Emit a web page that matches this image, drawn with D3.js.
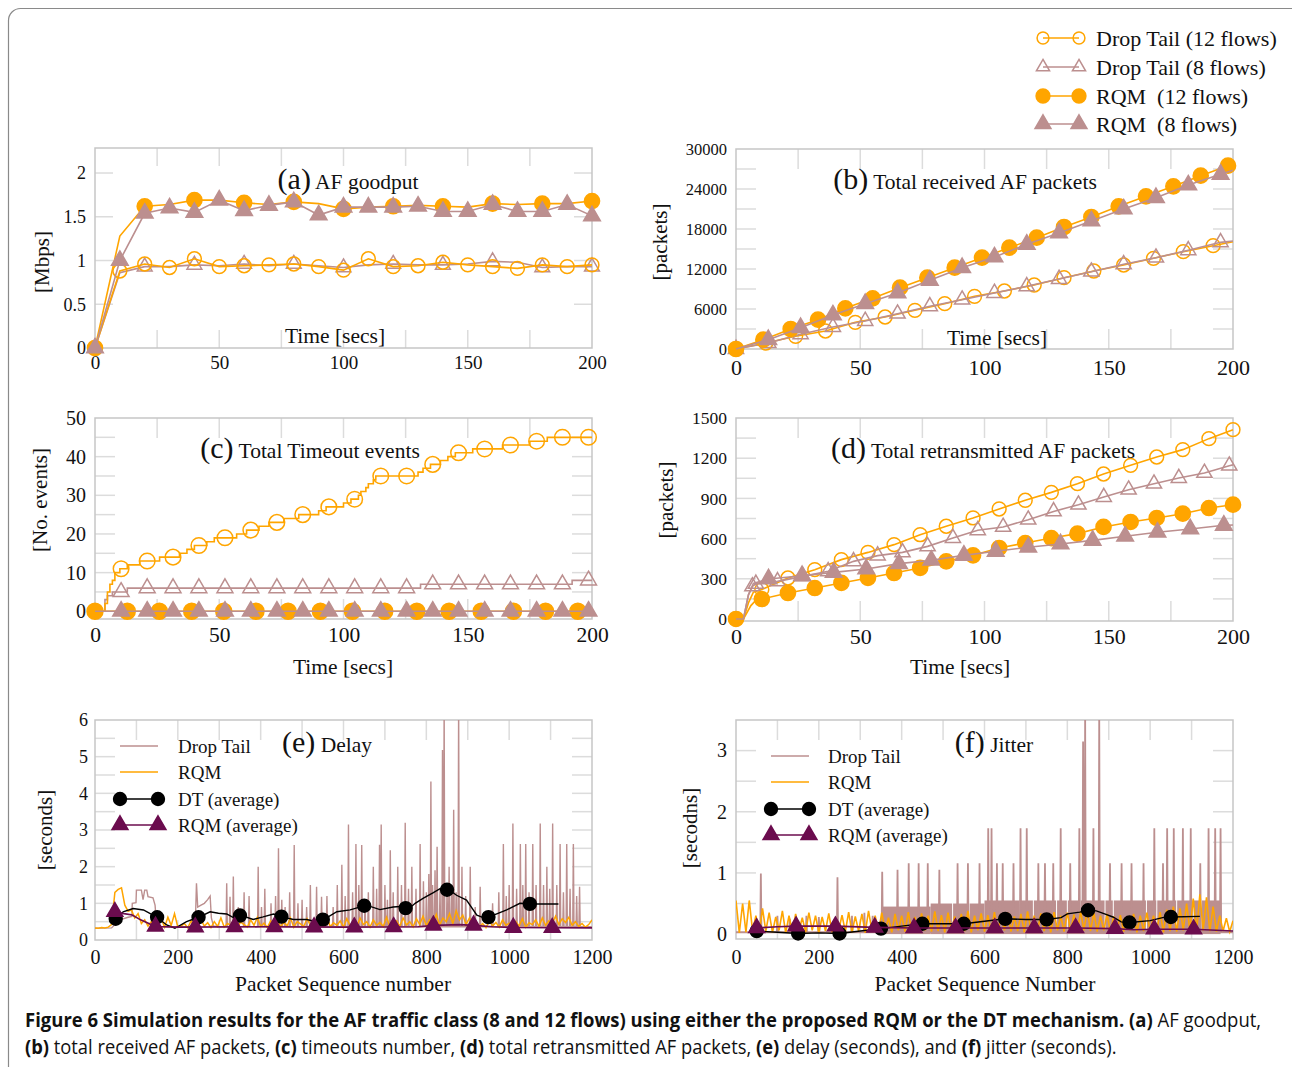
<!DOCTYPE html>
<html>
<head>
<meta charset="utf-8">
<script src="https://cdn.jsdelivr.net/npm/d3@7"></script>
<style>
  body { margin: 0; background: #fff; }
  svg { display: block; }
  text { font-family: "Liberation Serif", "Times New Roman", serif; fill: #111; }
</style>
</head>
<body>
<script>
const W = 1292, H = 1067;
const ORANGE = '#ffa500', ROSY = '#bc8f8f', PURPLE = '#6b0c4e';
const FRAME = '#c6c6c6', TICK = '#dcdcdc';

// ---------- data ----------
// (a) AF goodput [Mbps], one sample every 10 s
const tGood = [0, 10, 20, 30, 40, 50, 60, 70, 80, 90, 100, 110, 120, 130, 140, 150, 160, 170, 180, 190, 200];
const goodDT12 = [0, 0.88, 0.96, 0.92, 1.02, 0.93, 0.94, 0.95, 0.96, 0.93, 0.89, 1.02, 0.93, 0.94, 0.98, 0.95, 0.93, 0.91, 0.95, 0.93, 0.95];
const goodDT8 = [0, 0.86, 0.93, 0.93, 0.95, 0.94, 0.96, 0.94, 0.96, 0.94, 0.92, 0.95, 0.96, 0.95, 0.95, 0.96, 0.99, 0.98, 0.92, 0.93, 0.93];
const goodRQM12 = [0, 1.28, 1.62, 1.64, 1.69, 1.69, 1.66, 1.64, 1.67, 1.65, 1.59, 1.61, 1.62, 1.63, 1.62, 1.61, 1.65, 1.64, 1.65, 1.65, 1.68];
const goodRQM8 = [0, 1.0, 1.54, 1.6, 1.55, 1.69, 1.57, 1.63, 1.67, 1.52, 1.61, 1.61, 1.61, 1.62, 1.56, 1.56, 1.64, 1.56, 1.56, 1.64, 1.51];

// (b) total received AF packets
const recvT12 = [0, 11, 22, 33, 44, 55, 66, 77, 88, 99, 110, 121, 132, 143, 154, 165, 176, 187, 198, 200];
const recvRQM12 = [0, 1400, 3000, 4400, 6100, 7600, 9200, 10700, 12200, 13700, 15200, 16700, 18300, 19800, 21400, 22900, 24400, 26000, 27500, 27800];
const recvT8 = [0, 13, 26, 39, 52, 65, 78, 91, 104, 117, 130, 143, 156, 169, 182, 195, 200];
const recvRQM8 = [0, 1400, 3200, 5100, 6800, 8400, 10300, 12200, 13800, 15700, 17400, 19200, 21000, 22700, 24600, 26200, 26800];
const recvTDT12 = [0, 12, 24, 36, 48, 60, 72, 84, 96, 108, 120, 132, 144, 156, 168, 180, 192, 200];
const recvDT12 = [0, 900, 1900, 2700, 4000, 4800, 5800, 6800, 7900, 8700, 9600, 10700, 11700, 12600, 13600, 14600, 15500, 16100];
const recvDT8 = [0, 900, 2200, 3300, 4200, 5300, 6400, 7400, 8400, 9400, 10500, 11600, 12700, 13700, 14800, 16000, 16200];

// (c) total timeout events: [time, count] where the count steps up
const toDT12 = [[0,0],[3,0],[4,2],[5,5],[6,7],[7,8],[8,10],[10,11],[13,12],[18,13],[26,14],[34,15],[37,16],[40,17],[45,18],[48,19],[57,20],[61,21],[66,22],[70,23],[76,24],[82,25],[90,26],[93,27],[100,28],[103,29],[106,30],[107,31],[109,32],[110,33],[112,34],[113,35],[130,36],[132,37],[135,38],[139,39],[142,40],[145,41],[152,42],[164,43],[175,44],[182,45],[200,45]];
const toDT8 = [[0,0],[3,0],[4,3],[5,4],[7,5],[13,6],[131,7],[192,8],[200,8]];
const toRQM12 = [[0,0],[200,0]];
const toRQM8 = [[0,0],[200,0]];
const marksTimeoutA = [10.5, 21, 31.4, 41.8, 52.3, 62.7, 73.2, 83.6, 94.1, 104.5, 115, 125.4, 135.9, 146.3, 156.8, 167.2, 177.7, 188.1, 198.6];
const marksTimeoutB = [0, 13, 25.9, 38.9, 51.8, 64.8, 77.7, 90.7, 103.6, 116.6, 129.5, 142.5, 155.4, 168.4, 181.3, 194.3];

// (d) total retransmitted AF packets
const retxDT12 = [[0,0],[3,0],[5,120],[7,200],[10.4,220],[20.9,306],[31.7,368],[42.4,443],[53.1,497],[63.6,555],[74.1,629],[84.6,692],[95.4,754],[105.9,821],[116.4,886],[126.9,945],[137.4,1010],[147.9,1082],[158.8,1147],[169.3,1209],[179.8,1264],[190.3,1346],[200,1413]];
const retxRQM12 = [[0,0],[3,0],[6,100],[8,140],[10.4,149],[20.9,194],[31.7,231],[42.4,269],[53.1,306],[63.6,343],[74.1,381],[84.6,430],[95.4,475],[105.9,530],[116.4,567],[126.9,604],[137.4,637],[147.9,687],[158.8,724],[169.3,754],[179.8,786],[190.3,828],[200,853]];
const retxDT8 = [[0,0],[3,0],[5,180],[6.6,243],[8,262],[16.7,281],[26.9,318],[37.1,356],[47.3,430],[57,473],[67,497],[77.1,542],[87.3,604],[97.3,662],[107.5,687],[117.6,741],[127.8,803],[137.8,853],[148,910],[158,965],[168.2,1010],[178.2,1052],[188.5,1090],[198.5,1144],[200,1150]];
const retxRQM8 = [[0,0],[3,0],[5,180],[7,265],[13.1,299],[26.6,323],[39.3,348],[52.4,373],[65.6,413],[78.6,438],[91.7,475],[104.5,505],[117.6,535],[130.6,560],[143.5,587],[156.6,617],[169.6,647],[182.8,672],[196.3,699],[200,702]];

// (e) delay [s] per packet sequence number
const dtDelayHead = [[0,0.32],[40,0.33],[60,0.55],[80,0.62],[89,0.64],[90,1.0],[99,1.02],[100,1.36],[112,1.36],[116,1.1],[120,1.36],[125,1.36],[128,1.18],[140,1.15],[145,0.95],[149,0.4],[160,0.36],[242,0.36],[245,1.55],[248,0.9],[256,0.95],[264,1.0],[272,1.1],[278,1.2],[281,0.6],[286,0.38],[300,0.36]];
const dtDelaySpikes = [[318,1.55],[326,1.18],[334,1.73],[346,0.9],[360,1.3],[372,1.2],[394,2.0],[402,0.9],[410,1.4],[425,1.0],[436,1.2],[443,2.5],[451,1.1],[459,0.9],[470,1.3],[481,2.59],[490,1.0],[500,1.1],[511,0.9],[520,1.5],[535,1.45],[547,1.18],[560,1.2],[575,0.9],[585,1.5],[596,2.05],[604,1.2],[612,3.15],[622,1.3],[630,2.62],[637,1.5],[644,2.59],[652,1.0],[660,1.3],[672,2.0],[680,1.4],[687,2.6],[691,3.15],[700,1.5],[706,1.1],[713,2.45],[720,1.3],[731,2.0],[740,1.5],[749,3.2],[757,1.4],[765,2.0],[775,1.4],[785,2.62],[793,1.6],[800,1.3],[806,1.8],[811,4.32],[815,1.5],[821,1.9],[826,2.54],[833,1.4],[839,5.18],[843,6.5],[850,1.4],[855,2.0],[861,1.5],[866,3.55],[872,1.3],[878,6.5],[886,2.0],[895,1.2],[906,2.0],[918,0.9],[930,1.45],[960,1.0],[975,1.3],[986,2.62],[993,1.2],[1000,1.5],[1009,3.18],[1018,1.4],[1027,2.62],[1033,1.5],[1040,2.62],[1048,1.3],[1057,2.62],[1065,1.5],[1075,3.18],[1083,1.5],[1091,2.0],[1098,1.4],[1105,3.18],[1115,1.5],[1123,2.62],[1131,1.3],[1139,2.62],[1147,1.4],[1155,2.62],[1163,1.2],[1170,1.45]];
const dtDelayBase = 0.36;
// RQM delay, one reading every 8 packets
const rqmDelayStep = 8;
const rqmDelay = [0.33,0.32,0.34,0.33,0.35,0.42, 1.3,1.38,1.42,0.95, 0.78,0.82,0.6,0.72,0.45,0.55,
  0.38,0.5,0.36,0.42,0.58,0.35,0.62,0.4,0.72,0.35,
  0.38,0.45,0.33,0.52,0.4,0.36,0.55,0.38,0.47,0.34,
  0.5,0.37,0.6,0.35,0.45,0.4,0.58,0.36,0.49,0.42,
  0.35,0.55,0.4,0.62,0.37,0.46,0.34,0.52,0.41,0.57,
  0.36,0.48,0.39,0.6,0.35,0.5,0.44,0.37,0.58,0.4,
  0.46,0.34,0.55,0.38,0.63,0.36,0.47,0.4,0.52,0.35,
  0.58,0.39,0.45,0.36,0.6,0.42,0.5,0.35,0.55,0.4,
  0.48,0.37,0.62,0.36,0.45,0.52,0.38,0.6,0.41,0.5,
  0.36,0.58,0.42,0.65,0.39,0.55,0.45,0.7,0.4,0.6,
  0.5,0.72,0.45,0.8,0.55,0.68,0.42,0.6,0.38,0.5,
  0.36,0.45,0.34,0.52,0.38,0.48,0.35,0.55,0.4,0.46,
  0.36,0.5,0.38,0.58,0.35,0.47,0.42,0.55,0.37,0.6,
  0.4,0.52,0.45,0.65,0.42,0.58,0.48,0.62,0.4,0.5,
  0.37,0.45,0.35,0.42,0.55];
const dtAvgDelay = [[48,0.56],[68,0.77],[92,0.86],[117,0.82],[150,0.62],[173,0.41],[193,0.32],[221,0.5],[250,0.62],[278,0.77],[298,0.73],[318,0.71],[342,0.56],[351,0.68],[382,0.56],[406,0.63],[431,0.71],[452,0.63],[479,0.56],[511,0.56],[535,0.5],[554,0.57],[584,0.77],[616,0.82],[655,0.95],[688,0.83],[720,0.9],[745,0.92],[755,0.82],[773,1.0],[793,1.14],[817,1.29],[833,1.4],[856,1.36],[873,1.22],[897,1.09],[922,0.68],[942,0.59],[958,0.66],[994,0.82],[1026,1.0],[1059,0.98],[1119,0.98]];
const rqmAvgDelay = [[48,0.77],[70,0.72],[90,0.68],[110,0.55],[130,0.45],[146,0.37],[200,0.35],[400,0.36],[600,0.35],[780,0.36],[820,0.4],[880,0.42],[915,0.4],[960,0.36],[1010,0.34],[1200,0.33]];
const marksDtAvg = [50, 150, 250, 350, 450, 550, 650, 750, 850, 950, 1050];
const marksRqmAvg = [48, 146, 242, 337, 433, 529, 626, 721, 817, 914, 1010, 1104];

// (f) jitter [s]
const dtJitterSpikes = [[60,0.99],[100,0.3],[130,0.25],[170,0.3],[200,0.28],[245,0.93],[280,0.3],[310,0.35],[330,0.3],[353,1.02],[390,1.05],[417,1.16],[441,1.16],[463,1.16],[491,1.05],[535,1.16],[560,1.16],[588,1.16],[609,1.73],[617,1.73],[630,1.16],[644,1.16],[670,1.16],[687,1.73],[702,1.73],[730,1.16],[746,1.16],[766,1.16],[784,1.73],[807,1.16],[829,1.73],[838,3.15],[843,3.6],[863,1.73],[877,3.6],[903,1.16],[931,1.16],[955,1.16],[984,1.16],[1010,1.73],[1031,1.16],[1041,1.73],[1057,1.73],[1079,1.73],[1098,1.73],[1121,1.16],[1141,1.73],[1157,1.73],[1170,1.73]];
const dtJitterBase = 0.03;
const dtJitterBlocks = [[352,470,0.45],[470,600,0.5],[600,1170,0.55]];
const dtJitterGaps = [491,523,563,686,718,774,800,831,891,911,991,1016,1064,1104,1124];
const rqmJitterStep = 8;
const rqmJitter = [0.55,0.02,0.5,0.03,0.55,0.05,
  0.3,0.02,0.42,0.05,0.35,0.03,0.28,0.06,0.38,0.02,
  0.3,0.04,0.33,0.05,0.27,0.03,0.35,0.06,0.3,0.02,
  0.28,0.05,0.34,0.03,0.26,0.06,0.31,0.04,0.36,0.03,
  0.29,0.05,0.33,0.02,0.38,0.06,0.3,0.04,0.35,0.05,
  0.27,0.03,0.33,0.06,0.3,0.04,0.36,0.05,0.28,0.03,
  0.34,0.06,0.3,0.04,0.37,0.05,0.31,0.03,0.35,0.06,
  0.29,0.04,0.33,0.05,0.38,0.03,0.3,0.06,0.34,0.04,
  0.31,0.05,0.36,0.03,0.3,0.06,0.35,0.04,0.29,0.05,
  0.33,0.03,0.37,0.06,0.3,0.04,0.34,0.05,0.31,0.03,
  0.36,0.06,0.3,0.04,0.35,0.05,0.32,0.03,0.37,0.06,
  0.4,0.05,0.35,0.04,0.3,0.06,0.33,0.03,0.29,0.05,
  0.31,0.04,0.28,0.06,0.33,0.03,0.3,0.05,0.35,0.04,
  0.3,0.06,0.36,0.03,0.4,0.05,0.45,0.04,0.42,0.06,
  0.5,0.05,0.58,0.04,0.65,0.06,0.6,0.05,0.45,0.04,
  0.3,0.05,0.26,0.04,0.22];
const dtAvgJitter = [[50,0.05],[100,0.03],[150,0.01],[200,0.02],[250,0.01],[300,0.05],[350,0.09],[400,0.13],[450,0.17],[500,0.17],[550,0.17],[600,0.21],[650,0.25],[700,0.24],[750,0.24],[785,0.27],[800,0.33],[830,0.36],[850,0.39],[870,0.38],[890,0.33],[910,0.28],[930,0.2],[950,0.19],[1000,0.22],[1030,0.27],[1050,0.28],[1120,0.29]];
const rqmAvgJitter = [[50,0.1],[100,0.12],[145,0.13],[240,0.13],[335,0.11],[430,0.1],[530,0.1],[625,0.1],[720,0.1],[820,0.1],[915,0.09],[960,0.07],[1010,0.08],[1105,0.08],[1200,0.05]];
const marksRqmAvgJ = [50, 145, 240, 335, 430, 530, 625, 720, 820, 915, 1010, 1105];

const legendMain = ['Drop Tail (12 flows)', 'Drop Tail (8 flows)', 'RQM  (12 flows)', 'RQM  (8 flows)'];
const legendSmall = ['Drop Tail', 'RQM', 'DT (average)', 'RQM (average)'];

// ---------- helpers ----------
const zip = (xs, ys) => xs.map((x, i) => [x, ys[i]]);
const every = (arr, step) => arr.filter((d, i) => i % step === 0);

function valueAt(pts, t, step) {
  const i = d3.bisector(d => d[0]).right(pts, t) - 1;
  if (i < 0) return pts[0][1];
  if (step || i >= pts.length - 1) return pts[i][1];
  const [x0, y0] = pts[i], [x1, y1] = pts[i + 1];
  return y0 + (y1 - y0) * (t - x0) / (x1 - x0);
}

// baseline with narrow spikes on top of it
function spikeLine(head, spikes, base, end, w) {
  const pts = head.slice();
  spikes.forEach(([s, v]) => pts.push([s - w, base], [s, v], [s + w, base]));
  pts.push([end, base]);
  return pts;
}

const svg = d3.select('body').append('svg').attr('width', W).attr('height', H);

svg.append('rect') // page border
  .attr('x', 8.5).attr('y', 8.5).attr('width', 1320).attr('height', 1120)
  .attr('rx', 12).attr('fill', 'none').attr('stroke', '#8a8a8a').attr('stroke-width', 1.2);

let clipCount = 0;
function panel(o) {
  const x = d3.scaleLinear().domain(o.xd).range([o.left, o.right]);
  const y = d3.scaleLinear().domain(o.yd).range([o.bottom, o.top]);
  const g = svg.append('g');
  const tl = o.tickLen || 20;

  const grid = g.append('g').attr('stroke', TICK).attr('stroke-width', 1.5);
  o.yGrid.forEach(v => {
    grid.append('line').attr('x1', o.left).attr('x2', o.left + tl).attr('y1', y(v)).attr('y2', y(v));
    grid.append('line').attr('x1', o.right - tl).attr('x2', o.right).attr('y1', y(v)).attr('y2', y(v));
  });
  o.xGrid.forEach(v => {
    grid.append('line').attr('x1', x(v)).attr('x2', x(v)).attr('y1', o.top).attr('y2', o.top + tl);
    grid.append('line').attr('x1', x(v)).attr('x2', x(v)).attr('y1', o.bottom - tl).attr('y2', o.bottom);
  });

  g.append('rect')
    .attr('x', o.left).attr('y', o.top).attr('width', o.right - o.left).attr('height', o.bottom - o.top)
    .attr('fill', 'none').attr('stroke', FRAME).attr('stroke-width', 1.5);

  const ax = g.append('g').attr('transform', `translate(0,${o.bottom})`)
    .call(d3.axisBottom(x).tickValues(o.xTicks).tickSize(0).tickPadding(o.xPad).tickFormat(d3.format('')));
  const ay = g.append('g').attr('transform', `translate(${o.left},0)`)
    .call(d3.axisLeft(y).tickValues(o.yTicks).tickSize(0).tickPadding(o.yPad).tickFormat(d3.format('')));
  [ax, ay].forEach(a => {
    a.select('.domain').remove();
    a.attr('font-family', null).attr('font-size', null);
  });
  ax.selectAll('text').style('font-size', o.xFont + 'px');
  ay.selectAll('text').style('font-size', o.yFont + 'px');

  const id = 'clip' + clipCount++;
  g.append('clipPath').attr('id', id).append('rect')
    .attr('x', o.left).attr('y', o.top).attr('width', o.right - o.left).attr('height', o.bottom - o.top);
  const plot = g.append('g').attr('clip-path', `url(#${id})`);

  // titles and axis labels
  const t = g.append('text').attr('x', o.title[1]).attr('y', o.title[2]).attr('text-anchor', 'middle');
  t.append('tspan').style('font-size', '30px').text(o.title[0][0]);
  t.append('tspan').style('font-size', '21.5px').text(o.title[0][1]);
  g.append('text').attr('transform', `translate(${o.ylab[1]},${o.ylab[2]}) rotate(-90)`)
    .attr('text-anchor', 'middle').attr('dy', '0.35em').style('font-size', '21px').text(o.ylab[0]);
  g.append('text').attr('x', o.xlab[1]).attr('y', o.xlab[2]).attr('text-anchor', 'middle')
    .attr('dy', '0.35em').style('font-size', '21.5px').text(o.xlab[0]);

  return { x, y, g, plot };
}

function series(p, s) {
  const line = d3.line().x(d => p.x(d[0])).y(d => p.y(d[1]))
    .curve(s.step ? d3.curveStepAfter : d3.curveLinear);
  p.g.append('path').attr('d', line(s.pts))
    .attr('fill', 'none').attr('stroke', s.color).attr('stroke-width', s.lw || 1.6);
  const sym = d3.symbol().type(s.shape).size(s.size);
  p.g.append('g').selectAll('path').data(s.marks).join('path')
    .attr('transform', t => `translate(${p.x(t)},${p.y(valueAt(s.pts, t, s.step))})`)
    .attr('d', sym)
    .attr('fill', s.open ? 'none' : s.color)
    .attr('stroke', s.color).attr('stroke-width', 1.5);
}

const tri = d3.symbolTriangle, circ = d3.symbolCircle;
const ticksTime = [0, 50, 100, 150, 200];
const gridTime = [25, 50, 75, 100, 125, 150, 175];

// ---------- (a) ----------
const pa = panel({
  left: 95, right: 592, top: 148, bottom: 348, xd: [0, 200], yd: [0, 2.286],
  xTicks: ticksTime, yTicks: [0, 0.5, 1, 1.5, 2], xGrid: gridTime, yGrid: [0.5, 1, 1.5, 2],
  xPad: 8, yPad: 9, xFont: 19, yFont: 18, tickLen: 18,
  title: [['(a)', ' AF goodput'], 348, 189], ylab: ['[Mbps]', 42, 262], xlab: ['Time [secs]', 335, 335]
});
series(pa, { pts: zip(tGood, goodDT8), marks: every(tGood, 2), color: ROSY, shape: tri, size: 95, open: true });
series(pa, { pts: zip(tGood, goodDT12), marks: tGood, color: ORANGE, shape: circ, size: 150, open: true });
series(pa, { pts: zip(tGood, goodRQM12), marks: every(tGood, 2), color: ORANGE, shape: circ, size: 180 });
series(pa, { pts: zip(tGood, goodRQM8), marks: tGood, color: ROSY, shape: tri, size: 120 });

// ---------- (b) ----------
const pb = panel({
  left: 736, right: 1233, top: 149, bottom: 349, xd: [0, 200], yd: [0, 30000],
  xTicks: ticksTime, yTicks: [0, 6000, 12000, 18000, 24000, 30000], xGrid: gridTime,
  yGrid: d3.range(3000, 30000, 3000),
  xPad: 10, yPad: 9, xFont: 22, yFont: 16.5,
  title: [['(b)', ' Total received AF packets'], 965, 189], ylab: ['[packets]', 660, 242], xlab: ['Time [secs]', 997, 337]
});
series(pb, { pts: zip(recvTDT12, recvDT12), marks: recvTDT12.slice(0, -1), color: ORANGE, shape: circ, size: 150, open: true });
series(pb, { pts: zip(recvT8, recvDT8), marks: recvT8.slice(0, -1), color: ROSY, shape: tri, size: 100, open: true });
series(pb, { pts: zip(recvT12, recvRQM12), marks: recvT12.slice(0, -1), color: ORANGE, shape: circ, size: 180 });
series(pb, { pts: zip(recvT8, recvRQM8), marks: recvT8.slice(1, -1), color: ROSY, shape: tri, size: 120 });

// ---------- (c) ----------
const pc = panel({
  left: 95, right: 592, top: 418, bottom: 619, xd: [0, 200], yd: [-2, 50],
  xTicks: ticksTime, yTicks: [0, 10, 20, 30, 40, 50], xGrid: gridTime, yGrid: d3.range(0, 50, 5),
  xPad: 7.3, yPad: 9, xFont: 21.5, yFont: 20,
  title: [['(c)', '  Total Timeout events'], 310, 458], ylab: ['[No. events]', 40, 500], xlab: ['Time [secs]', 343, 666]
});
series(pc, { pts: toDT8, step: true, marks: marksTimeoutA, color: ROSY, shape: tri, size: 110, open: true });
series(pc, { pts: toDT12, step: true, marks: marksTimeoutA, color: ORANGE, shape: circ, size: 190, open: true });
series(pc, { pts: toRQM12, step: true, marks: marksTimeoutB, color: ORANGE, shape: circ, size: 200 });
series(pc, { pts: toRQM8, step: true, marks: marksTimeoutA, color: ROSY, shape: tri, size: 120 });

// ---------- (d) ----------
const pd = panel({
  left: 736, right: 1233, top: 418, bottom: 621, xd: [0, 200], yd: [-15, 1500],
  xTicks: ticksTime, yTicks: [0, 300, 600, 900, 1200, 1500], xGrid: gridTime, yGrid: d3.range(150, 1500, 150),
  xPad: 7, yPad: 9, xFont: 22, yFont: 17.5,
  title: [['(d)', ' Total retransmitted AF packets'], 983, 458], ylab: ['[packets]', 666, 500], xlab: ['Time [secs]', 960, 666]
});
series(pd, { pts: retxDT12, marks: [0].concat(retxDT12.slice(4).map(d => d[0])), color: ORANGE, shape: circ, size: 150, open: true });
series(pd, { pts: retxDT8, marks: retxDT8.slice(3, -1).map(d => d[0]), color: ROSY, shape: tri, size: 100, open: true });
series(pd, { pts: retxRQM12, marks: [0].concat(retxRQM12.slice(4).map(d => d[0])), color: ORANGE, shape: circ, size: 180 });
series(pd, { pts: retxRQM8, marks: retxRQM8.slice(4, -1).map(d => d[0]), color: ROSY, shape: tri, size: 120 });

// ---------- (e) ----------
const seqTicks = [0, 200, 400, 600, 800, 1000, 1200];
const seqGrid = d3.range(100, 1200, 100);
const pe = panel({
  left: 95, right: 592, top: 720, bottom: 940, xd: [0, 1200], yd: [0, 6],
  xTicks: seqTicks, yTicks: [0, 1, 2, 3, 4, 5, 6], xGrid: seqGrid, yGrid: d3.range(0.5, 6, 0.5),
  xPad: 9.8, yPad: 7, xFont: 20, yFont: 18,
  title: [['(e)', '  Delay'], 327, 752], ylab: ['[seconds]', 45, 830], xlab: ['Packet Sequence number', 343, 983]
});
const seqLine = p => d3.line().x(d => p.x(d[0])).y(d => p.y(d[1]));
pe.plot.append('path').attr('d', seqLine(pe)(spikeLine(dtDelayHead, dtDelaySpikes, dtDelayBase, 1200, 1.5)))
  .attr('fill', 'none').attr('stroke', ROSY).attr('stroke-width', 1.4);
pe.plot.append('path').attr('d', seqLine(pe)(rqmDelay.map((v, i) => [i * rqmDelayStep, v])))
  .attr('fill', 'none').attr('stroke', ORANGE).attr('stroke-width', 1.5);
series(pe, { pts: dtAvgDelay, marks: marksDtAvg, color: '#000', shape: circ, size: 130, lw: 1.4 });
series(pe, { pts: rqmAvgDelay, marks: marksRqmAvg, color: PURPLE, shape: tri, size: 110, lw: 1.6 });

// ---------- (f) ----------
const pf = panel({
  left: 736, right: 1233, top: 720, bottom: 939, xd: [0, 1200], yd: [-0.08, 3.5],
  xTicks: seqTicks, yTicks: [0, 1, 2, 3], xGrid: seqGrid, yGrid: d3.range(0.5, 3.5, 0.5),
  xPad: 10.8, yPad: 9, xFont: 20, yFont: 20,
  title: [['(f)', ' Jitter'], 994, 752], ylab: ['[secodns]', 690, 828], xlab: ['Packet Sequence Number', 985, 983]
});
pf.plot.append('g').selectAll('rect').data(dtJitterBlocks).join('rect')
  .attr('x', d => pf.x(d[0])).attr('width', d => pf.x(d[1]) - pf.x(d[0]))
  .attr('y', d => pf.y(d[2])).attr('height', d => pf.y(0) - pf.y(d[2]))
  .attr('fill', ROSY);
pf.plot.append('g').selectAll('line').data(dtJitterGaps).join('line')
  .attr('x1', d => pf.x(d)).attr('x2', d => pf.x(d))
  .attr('y1', pf.y(0.56)).attr('y2', pf.y(0.08))
  .attr('stroke', '#fff').attr('stroke-width', 1);
pf.plot.append('path').attr('d', seqLine(pf)(spikeLine([[0, dtJitterBase]], dtJitterSpikes, dtJitterBase, 1200, 1.5)))
  .attr('fill', 'none').attr('stroke', ROSY).attr('stroke-width', 1.8);
pf.plot.append('path').attr('d', seqLine(pf)(rqmJitter.map((v, i) => [i * rqmJitterStep, v])))
  .attr('fill', 'none').attr('stroke', ORANGE).attr('stroke-width', 1.6);
series(pf, { pts: dtAvgJitter, marks: marksDtAvg, color: '#000', shape: circ, size: 130, lw: 1.4 });
series(pf, { pts: rqmAvgJitter, marks: marksRqmAvgJ, color: PURPLE, shape: tri, size: 110, lw: 1.6 });

// ---------- legends ----------
function legendRow(g, x1, x2, y, color, shape, size, open, lw) {
  g.append('line').attr('x1', x1).attr('x2', x2).attr('y1', y).attr('y2', y)
    .attr('stroke', color).attr('stroke-width', lw || 1.6);
  if (!shape) return;
  const sym = d3.symbol().type(shape).size(size);
  [x1, x2].forEach(cx => g.append('path').attr('transform', `translate(${cx},${y})`).attr('d', sym)
    .attr('fill', open ? 'none' : color).attr('stroke', color).attr('stroke-width', 1.5));
}

const lgTop = svg.append('g');
const topRows = [
  [ORANGE, circ, 110, true], [ROSY, tri, 75, true], [ORANGE, circ, 150, false], [ROSY, tri, 110, false]
];
const topY = [38, 67, 96, 124];
legendMain.forEach((label, i) => {
  const [c, s, sz, op] = topRows[i];
  legendRow(lgTop, 1043, 1079, topY[i], c, s, sz, op);
  lgTop.append('text').attr('x', 1096).attr('y', topY[i] + 7.5).style('font-size', '22px')
    .style('white-space', 'pre').text(label);
});

function smallLegend(x1, x2, tx, ys) {
  const lg = svg.append('g');
  const rows = [[ROSY, null], [ORANGE, null], ['#000', circ, 130], [PURPLE, tri, 110]];
  legendSmall.forEach((label, i) => {
    const [c, s, sz] = rows[i];
    legendRow(lg, x1, x2, ys[i], c, s, sz, false, 1.4);
    lg.append('text').attr('x', tx).attr('y', ys[i] + 6.5).style('font-size', '19px').text(label);
  });
}
smallLegend(120, 158, 178, [746, 772, 799, 825]);
smallLegend(771, 809, 828, [756, 782, 809, 835]);

// ---------- caption ----------
// condensed look: set the line at natural width, then squeeze it horizontally
function captionLine(y, parts, width) {
  const g = svg.append('g');
  const t = g.append('text').attr('x', 0).attr('y', 0)
    .style('font-family', '"Open Sans", "Noto Sans", sans-serif').style('font-size', '20px')
    .style('white-space', 'pre');
  parts.forEach(([s, b]) => t.append('tspan').style('font-weight', b ? 'bold' : 'normal').text(s));
  const w = t.node().getComputedTextLength();
  g.attr('transform', `translate(25,${y}) scale(${width / w},1)`);
}
captionLine(1027, [
  ['Figure 6 Simulation results for the AF traffic class (8 and 12 flows) using either the proposed RQM or the DT mechanism. (a)', true],
  [' AF goodput,', false]
], 1237);
captionLine(1054, [
  ['(b)', true], [' total received AF packets, ', false], ['(c)', true], [' timeouts number, ', false],
  ['(d)', true], [' total retransmitted AF packets, ', false], ['(e)', true], [' delay (seconds), and ', false],
  ['(f)', true], [' jitter (seconds).', false]
], 1092);
</script>
</body>
</html>
